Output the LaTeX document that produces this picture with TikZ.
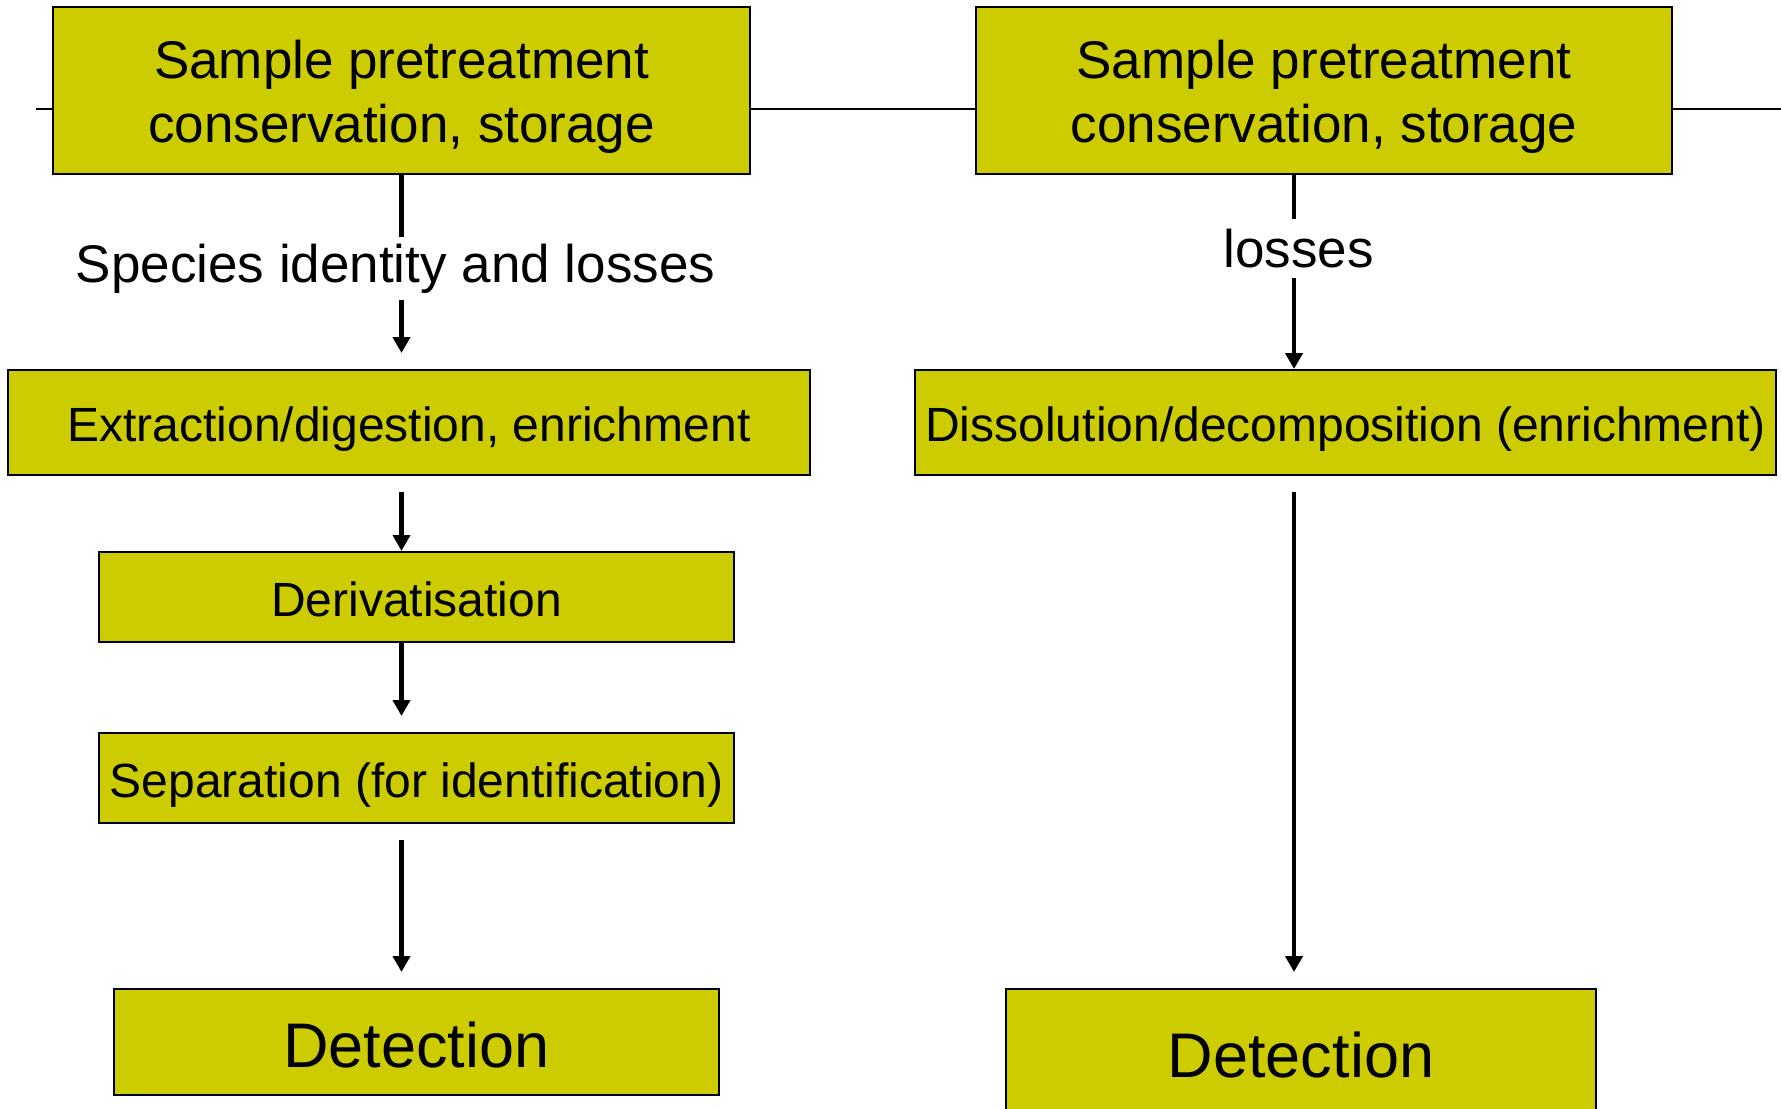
\documentclass[tikz,border=0pt]{standalone}
\usepackage{fontspec}
\setmainfont{Liberation Sans}
\usepackage{tikz}
\usetikzlibrary{arrows.meta, positioning, calc, backgrounds}
\definecolor{boxolive}{HTML}{CCCC00}
\definecolor{inkdark}{HTML}{000000}
\tikzset{
  boxbase/.style={fill=boxolive, draw=inkdark, line width=1pt, align=center, inner sep=2pt, text=inkdark},
  card/.style={boxbase, font=\fontsize{24}{29}\selectfont, text height=24pt, text depth=4.8pt},
  headcard/.style={boxbase, font=\fontsize{26.5}{32}\selectfont},
  detcard/.style={boxbase, font=\fontsize{31.5}{38}\selectfont, text height=31.5pt, text depth=6.3pt},
  lbl/.style={font=\fontsize{26.5}{32}\selectfont, text=inkdark, fill=white, inner sep=2pt},
  flow/.style={-{Triangle[length=8pt, width=8.5pt]}, line width=2.4pt, color=inkdark},
}
\newcommand{\firstlift}{\rule{0pt}{25.5pt}}

\begin{document}
\begin{tikzpicture}[x=0.5pt, y=-0.5pt]
  \useasboundingbox (0,0) rectangle (1781,1108);
  % left column
  \node[headcard, minimum width=348.5pt, minimum height=83.5pt] (pre1) at (401.5,90.5)
    {\firstlift Sample pretreatment\\conservation, storage};
  \node[card, minimum width=401pt, minimum height=52.5pt] (ext) at (409,422.5)
    {Extraction/digestion, enrichment};
  \node[card, minimum width=317.5pt, minimum height=45pt] (der) at (416.5,597) {Derivatisation};
  \node[card, minimum width=317.5pt, minimum height=45pt] (sep) at (416.5,778)
    {Separation (for identification)};
  \node[detcard, minimum width=302.5pt, minimum height=53pt] (det1) at (416.5,1042) {Detection};
  % right column
  \node[headcard, minimum width=348pt, minimum height=83.5pt] (pre2) at (1324,90.5)
    {\firstlift Sample pretreatment\\conservation, storage};
  \node[card, minimum width=430.5pt, minimum height=52.5pt] (dis) at (1345.5,422.5)
    {Dissolution/decomposition (enrichment)};
  \node[detcard, minimum width=295pt, minimum height=63pt] (det2) at (1301,1052) {Detection};
  % rule behind the top boxes
  \coordinate (rule-l) at (36,109);
  \coordinate (rule-r) at (1781,109);
  \begin{scope}[on background layer]
    \draw[line width=1pt, inkdark] (rule-l) -- (rule-r);
  \end{scope}
  % arrows
  \draw[flow, shorten >=8pt] (pre1.south) --
    node[lbl, xshift=-3pt, yshift=1.7pt, inner ysep=3.5pt] {Species identity and losses} (pre1.south |- ext.north);
  \draw[flow, shorten <=8pt] (pre1.south |- ext.south) -- (pre1.south |- der.north);
  \draw[flow, shorten >=8pt] (pre1.south |- der.south) -- (pre1.south |- sep.north);
  \draw[flow, shorten <=8pt, shorten >=8pt] (pre1.south |- sep.south) -- (pre1.south |- det1.north);
  \coordinate (rx) at ([xshift=-15pt]pre2.south);
  \draw[flow] (rx) -- node[lbl, pos=0.38, xshift=2.3pt, inner ysep=5pt] {losses} (rx |- dis.north);
  \draw[flow, shorten <=8pt, shorten >=8pt] (rx |- dis.south) -- (rx |- det2.north);
\end{tikzpicture}
\end{document}
